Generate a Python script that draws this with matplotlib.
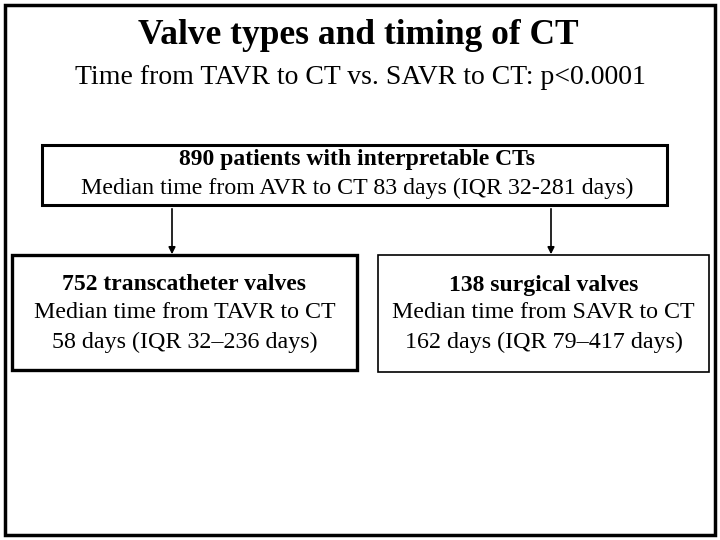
import matplotlib.pyplot as plt
from matplotlib.patches import Rectangle

plt.rcParams['font.family'] = ['Liberation Serif', 'DejaVu Serif']

title = "Valve types and timing of CT"
subtitle = "Time from TAVR to CT vs. SAVR to CT: p<0.0001"
total_n = 890
median_all, iqr_all = 83, (32, 281)
groups = ["transcatheter valves", "surgical valves"]
group_n = [752, 138]
group_abbr = ["TAVR", "SAVR"]
group_median = [58, 162]
group_iqr = [(32, 236), (79, 417)]

fig = plt.figure(figsize=(7.2, 5.4), dpi=100)
ax = fig.add_axes([0, 0, 1, 1])
ax.set_xlim(0, 720)
ax.set_ylim(540, 0)
ax.axis('off')

# outer frame
ax.add_patch(Rectangle((5, 5), 710, 530, fill=False, lw=2.5, ec='black'))
ax.text(358, 35, title, ha='center', va='center', fontsize=25.5, weight='bold')
ax.text(360, 77, subtitle, ha='center', va='center', fontsize=20)

# top box
ax.add_patch(Rectangle((42, 145), 625, 60, fill=False, lw=2.2, ec='black'))
ax.text(357, 160, f"{total_n} patients with interpretable CTs",
        ha='center', va='center', fontsize=17, weight='bold')
ax.text(357, 188, f"Median time from AVR to CT {median_all} days (IQR {iqr_all[0]}-{iqr_all[1]} days)",
        ha='center', va='center', fontsize=17.2)

# arrows
for x in (172, 551):
    ax.annotate('', xy=(x, 257), xytext=(x, 206),
                arrowprops=dict(arrowstyle='-|>', color='black', lw=1.2, mutation_scale=10))

# group boxes
boxes = [(12, 255, 345, 115, 2.4), (378, 255, 331, 117, 1.2)]
for (x, y, w, h, lw), name, n, ab, med, iqr in zip(boxes, groups, group_n, group_abbr,
                                                   group_median, group_iqr):
    ax.add_patch(Rectangle((x, y), w, h, fill=False, lw=lw, ec='black'))
    cx = x + w / 2
    ax.text(cx, 285, f"{n} {name}", ha='center', va='center', fontsize=17, weight='bold')
    ax.text(cx, 313, f"Median time from {ab} to CT", ha='center', va='center', fontsize=17.3)
    ax.text(cx, 342, f"{med} days (IQR {iqr[0]}\u2013{iqr[1]} days)",
            ha='center', va='center', fontsize=17.3)

fig.savefig('out.png', dpi=100)
